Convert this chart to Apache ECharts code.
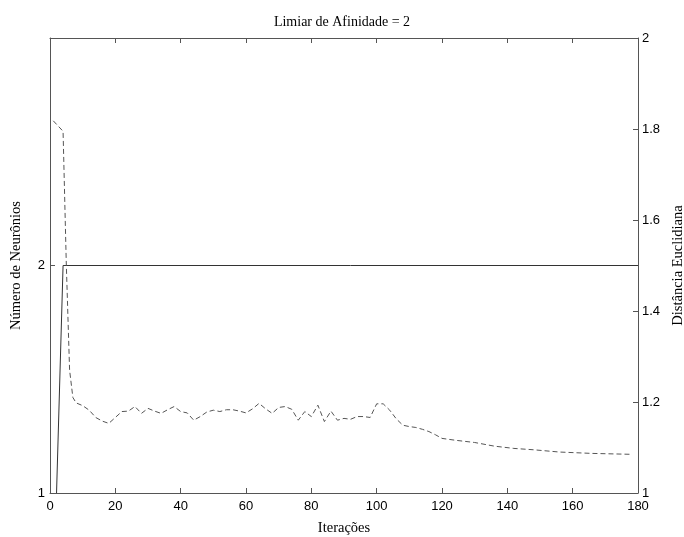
<!DOCTYPE html>
<html>
<head>
<meta charset="utf-8">
<script src="https://cdn.jsdelivr.net/npm/echarts@6/dist/echarts.min.js"></script>
<style>
  html, body { margin: 0; padding: 0; background: #fff; }
  #chart { width: 684px; height: 537px; }
</style>
</head>
<body>
<div id="chart"></div>
<script>
// Limiar de Afinidade = 2
var iterDist = [1, 4, 5, 6, 7, 8, 10, 12, 14, 16, 18, 20, 22, 24, 26, 28, 30, 32, 34, 36, 38, 40,
    42, 44, 46, 48, 50, 52, 54, 56, 58, 60, 62, 64, 66, 68, 70, 72, 74, 76, 78, 80, 82, 84, 86, 88,
    90, 92, 94, 96, 98, 100, 102, 104, 106, 108, 110, 112, 114, 116, 118, 120, 124, 130, 136, 142,
    148, 156, 166, 178];
var distancia = [1.818, 1.795, 1.50, 1.27, 1.21, 1.198, 1.192, 1.182, 1.166, 1.158, 1.153, 1.166,
    1.179, 1.180, 1.190, 1.175, 1.186, 1.180, 1.175, 1.183, 1.190, 1.179, 1.176, 1.160, 1.168, 1.178,
    1.182, 1.179, 1.183, 1.183, 1.180, 1.176, 1.185, 1.197, 1.185, 1.175, 1.188, 1.190, 1.184, 1.160,
    1.179, 1.168, 1.193, 1.157, 1.180, 1.160, 1.164, 1.162, 1.168, 1.168, 1.166, 1.196, 1.196, 1.182,
    1.163, 1.149, 1.146, 1.144, 1.140, 1.135, 1.128, 1.120, 1.116, 1.111, 1.103, 1.098, 1.095, 1.090,
    1.087, 1.085];
var iterNeur = [2, 4, 180];
var neuronios = [1, 2, 2];

function pairs(xs, ys) {
    return xs.map(function (x, i) { return [x, ys[i]]; });
}

var dom = document.getElementById('chart');
var myChart = echarts.init(dom);

var axisLine = { onZero: false, lineStyle: { color: '#555', width: 1 } };
var axisTick = { show: true, inside: true, length: 5, lineStyle: { color: '#555' } };
var tickLabel = { color: '#000', fontFamily: 'Liberation Sans', fontSize: 13 };
var serif = { color: '#000', fontFamily: 'Liberation Serif', fontSize: 14.5 };

var option = {
    animation: false,
    title: {
        text: 'Limiar de Afinidade = 2',
        left: 'center',
        top: 10,
        textStyle: { color: '#000', fontFamily: 'Liberation Serif', fontSize: 14, fontWeight: 'normal' }
    },
    grid: { left: 50, right: 46, top: 38, bottom: 44, outerBoundsMode: 'none' },
    xAxis: [
        {
            type: 'value', min: 0, max: 180, interval: 20,
            name: 'Iterações', nameLocation: 'middle', nameGap: 28, nameTextStyle: serif,
            axisLine: axisLine,
            axisTick: axisTick,
            axisLabel: Object.assign({ margin: 7 }, tickLabel),
            splitLine: { show: false }
        },
        {
            type: 'value', position: 'top', min: 0, max: 180, interval: 20,
            axisLine: axisLine,
            axisTick: axisTick,
            axisLabel: { show: false },
            splitLine: { show: false }
        }
    ],
    yAxis: [
        {
            type: 'value', min: 1, max: 3, interval: 1, position: 'left',
            name: 'Número de Neurônios', nameLocation: 'middle', nameGap: 26, nameTextStyle: serif,
            axisLine: axisLine,
            axisTick: axisTick,
            axisLabel: Object.assign({
                margin: 5,
                formatter: function (v) { return v === 3 ? '' : v; }
            }, tickLabel),
            splitLine: { show: false }
        },
        {
            type: 'value', min: 1, max: 2, interval: 0.2, position: 'right',
            name: 'Distância Euclidiana', nameLocation: 'middle', nameGap: 33, nameTextStyle: serif,
            axisLine: axisLine,
            axisTick: axisTick,
            axisLabel: Object.assign({
                margin: 4,
                formatter: function (v) { return String(Math.round(v * 10) / 10); }
            }, tickLabel),
            splitLine: { show: false }
        }
    ],
    series: [
        {
            name: 'Neurônios',
            type: 'line',
            xAxisIndex: 0, yAxisIndex: 0,
            data: pairs(iterNeur, neuronios),
            symbol: 'none',
            lineStyle: { color: '#333', width: 1 }
        },
        {
            name: 'Distância',
            type: 'line',
            xAxisIndex: 0, yAxisIndex: 1,
            data: pairs(iterDist, distancia),
            symbol: 'none',
            lineStyle: { color: '#555', width: 1, type: [5, 3] }
        }
    ]
};

if (option && typeof option === 'object') {
    myChart.setOption(option);
}
</script>
</body>
</html>
